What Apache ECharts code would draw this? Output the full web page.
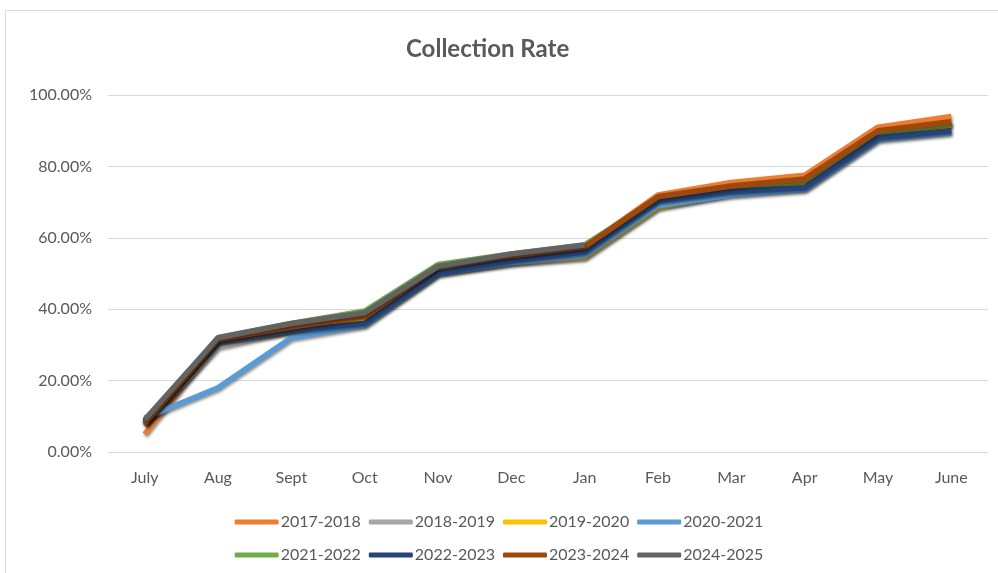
<!DOCTYPE html>
<html>
<head>
<meta charset="utf-8">
<script src="https://cdn.jsdelivr.net/npm/echarts@6/dist/echarts.min.js"></script>
<style>
  html, body { margin: 0; padding: 0; background: #fff; }
  #chart { width: 998px; height: 573px; }
</style>
</head>
<body>
<div id="chart"></div>
<script>
// Months of the collection year
const months = ['July', 'Aug', 'Sept', 'Oct', 'Nov', 'Dec', 'Jan', 'Feb', 'Mar', 'Apr', 'May', 'June'];

// Cumulative collection rate (%) per fiscal year
const fy2017_2018 = [5, 31, 35, 38, 52, 55, 57.5, 72, 75.5, 77.5, 91, 94];
const fy2018_2019 = [7.5, 29.5, 34, 37, 51, 54, 56, 70.5, 73.5, 75, 89, 91.5];
const fy2019_2020 = [8, 31, 34, 36.5, 50.5, 53, 54.5, 68.5, 72.5, 74.5, 89, 91.5];
const fy2020_2021 = [9.5, 18, 32, 35.5, 50, 53, 55, 69, 72, 73.5, 87.5, 89.5];
const fy2021_2022 = [8, 32, 36, 39.5, 52.5, 55.5, 58, 71, 74, 76, 89.5, 92];
const fy2022_2023 = [8.5, 31, 34, 36, 50, 53.5, 56, 70.5, 73, 74, 88, 90];
const fy2023_2024 = [8, 31.5, 35, 38, 52, 55, 57.5, 71.5, 74.5, 76.5, 90, 92.5];
const fy2024_2025 = [9, 32, 36, 39, 52, 55.5, 58];

const seriesNames = ['2017-2018', '2018-2019', '2019-2020', '2020-2021',
                     '2021-2022', '2022-2023', '2023-2024', '2024-2025'];
const seriesData = [fy2017_2018, fy2018_2019, fy2019_2020, fy2020_2021,
                    fy2021_2022, fy2022_2023, fy2023_2024, fy2024_2025];
const seriesColors = ['#ED7D31', '#A5A5A5', '#FFC000', '#5B9BD5',
                      '#70AD47', '#264478', '#9E480E', '#636363'];

const textColor = '#595959';
const fontFamily = 'Lato, "Open Sans", sans-serif';

const chart = echarts.init(document.getElementById('chart'));

const legendCommon = {
  left: 'center',
  icon: 'roundRect',
  itemWidth: 44,
  itemHeight: 5,
  itemGap: 8,
  textStyle: { color: textColor, fontSize: 16, fontFamily: fontFamily, padding: [0, 0, 0, -3] }
};

chart.setOption({
  backgroundColor: '#fff',
  animation: false,
  graphic: [{
    type: 'rect',
    shape: { x: 5.5, y: 10.5, width: 1100, height: 700 },
    style: { fill: 'none', stroke: '#d9d9d9', lineWidth: 1 },
    silent: true
  }],
  title: {
    text: 'Collection Rate',
    left: 401,
    top: 32,
    textStyle: { color: textColor, fontSize: 24, fontWeight: 'bold', fontFamily: fontFamily }
  },
  legend: [
    Object.assign({ top: 509, data: seriesNames.slice(0, 4) }, legendCommon),
    Object.assign({ top: 542, data: seriesNames.slice(4) }, legendCommon)
  ],
  grid: { left: 108, right: 10, top: 95, bottom: 121 },
  xAxis: {
    type: 'category',
    data: months,
    boundaryGap: true,
    axisLine: { lineStyle: { color: '#d9d9d9' } },
    axisTick: { show: false },
    axisLabel: { color: textColor, fontSize: 16, fontFamily: fontFamily, margin: 18 }
  },
  yAxis: {
    type: 'value',
    min: 0,
    max: 100,
    interval: 20,
    axisLine: { show: false },
    axisTick: { show: false },
    splitLine: { lineStyle: { color: '#d9d9d9', width: 1 } },
    axisLabel: {
      color: textColor, fontSize: 16, fontFamily: fontFamily, margin: 16,
      formatter: v => v.toFixed(2) + '%'
    }
  },
  series: seriesNames.map((name, i) => ({
    name: name,
    type: 'line',
    data: seriesData[i],
    symbol: 'none',
    color: seriesColors[i],
    lineStyle: {
      width: 5.5,
      color: seriesColors[i],
      shadowColor: 'rgba(0,0,0,0.45)',
      shadowBlur: 3,
      shadowOffsetY: 2,
      shadowOffsetX: 1
    },
    z: 2 + i
  }))
});
</script>
</body>
</html>
